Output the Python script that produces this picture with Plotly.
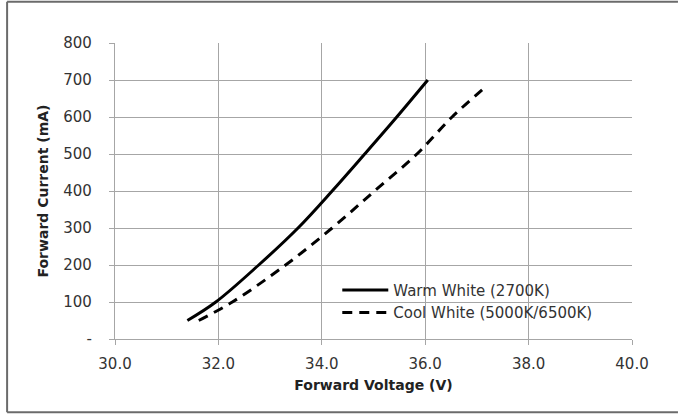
import plotly.graph_objects as go

# Data
warm_current = [50, 100, 200, 300, 400, 500, 600, 700]
warm_voltage = [31.40, 31.95, 32.78, 33.54, 34.20, 34.83, 35.45, 36.05]

cool_current = [50, 100, 200, 300, 400, 500, 600, 682]
cool_voltage = [31.62, 32.27, 33.30, 34.20, 35.02, 35.84, 36.52, 37.17]

x_ticks = [30, 32, 34, 36, 38, 40]
y_ticks = [0, 100, 200, 300, 400, 500, 600, 700, 800]
y_ticktext = ["-", "100", "200", "300", "400", "500", "600", "700", "800"]

FONT = "DejaVu Sans"
GRID = "#a6a6a6"
TXT = "#333333"

fig = go.Figure()
fig.add_trace(go.Scatter(
    x=warm_voltage, y=warm_current, mode="lines",
    name="Warm White (2700K)", line=dict(color="black", width=3, shape="spline", smoothing=1),
))
fig.add_trace(go.Scatter(
    x=cool_voltage, y=cool_current, mode="lines",
    name="Cool White (5000K/6500K)",
    line=dict(color="black", width=3, dash="10px,7px", shape="spline", smoothing=1),
))

L, R, T, B = 114.5, 46, 43.3, 75.7
W, H = 678, 415
pw, ph = W - L - R, H - T - B

def px2paper_x(px):
    return (px - L) / pw

def px2paper_y(py):
    return 1 - (py - T) / ph

fig.update_layout(
    width=W, height=H,
    margin=dict(l=L, r=R, t=T, b=B, pad=0),
    paper_bgcolor="white", plot_bgcolor="white",
    font=dict(family=FONT, size=14, color=TXT),
    showlegend=True,
    legend=dict(
        x=px2paper_x(337), y=px2paper_y(274), xanchor="left", yanchor="top",
        bgcolor="rgba(0,0,0,0)", itemwidth=46,
        font=dict(family=FONT, size=15, color=TXT),
    ),
    xaxis=dict(
        range=[30, 40], tickvals=x_ticks, tickformat=".1f",
        showgrid=True, gridcolor=GRID, gridwidth=1.3,
        showline=True, linecolor=GRID, linewidth=1.3,
        ticks="outside", ticklen=5, tickcolor=GRID, tickwidth=1.3,
        zeroline=False, ticklabelstandoff=6,
        tickfont=dict(size=15),
        title=dict(text="<b>Forward Voltage (V)</b>", font=dict(size=14, color="#222222"), standoff=8),
        fixedrange=True,
    ),
    yaxis=dict(
        range=[0, 800], tickvals=y_ticks, ticktext=y_ticktext,
        showgrid=True, gridcolor=GRID, gridwidth=1.3,
        showline=True, linecolor=GRID, linewidth=1.3,
        ticks="outside", ticklen=5, tickcolor=GRID, tickwidth=1.3,
        zeroline=False, ticklabelstandoff=14,
        tickfont=dict(size=15),
        title=dict(text="<b>Forward Current (mA)</b>", font=dict(size=14, color="#222222"), standoff=11),
        fixedrange=True,
    ),
)

# outer frame (left, top, bottom edges visible)
border = dict(color="#6b6b6b", width=2)
x0, x1 = px2paper_x(6.5), px2paper_x(678)
y0, y1 = px2paper_y(412.5), px2paper_y(2)
fig.add_shape(type="line", xref="paper", yref="paper", x0=x0, x1=x0, y0=y0, y1=y1, line=border)
fig.add_shape(type="line", xref="paper", yref="paper", x0=x0, x1=x1, y0=y1, y1=y1, line=border)
fig.add_shape(type="line", xref="paper", yref="paper", x0=x0, x1=x1, y0=y0, y1=y0, line=border)

fig.write_html(
    "out.html",
    config={"displayModeBar": False},
    post_script=(
        "document.documentElement.style.overflow='hidden';"
        "document.body.style.margin='0';document.body.style.padding='0';"
        "document.body.style.overflow='hidden';"
    ),
)
